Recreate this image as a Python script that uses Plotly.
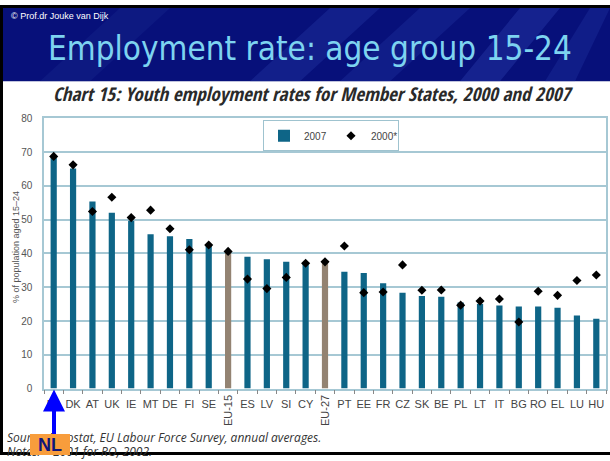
import plotly.graph_objects as go

categories = ["NL", "DK", "AT", "UK", "IE", "MT", "DE", "FI", "SE", "EU-15",
              "ES", "LV", "SI", "CY", "EU-27", "PT", "EE", "FR", "CZ", "SK",
              "BE", "PL", "LT", "IT", "BG", "RO", "EL", "LU", "HU"]
rate_2007 = [68.4, 65.1, 55.4, 52.0, 49.7, 45.7, 45.1, 44.3, 42.4, 40.8,
             39.0, 38.3, 37.5, 37.3, 38.0, 34.6, 34.2, 31.2, 28.4, 27.4,
             27.2, 25.5, 25.0, 24.6, 24.3, 24.3, 23.9, 21.6, 20.7]
rate_2000 = [68.7, 66.2, 52.4, 56.6, 50.6, 52.8, 47.3, 41.1, 42.5, 40.6,
             32.4, 29.6, 32.9, 37.1, 37.5, 42.2, 28.4, 28.6, 36.6, 29.1,
             29.2, 24.7, 25.9, 26.5, 19.7, 28.8, 27.6, 32.0, 33.6]
y_ticks = [0, 10, 20, 30, 40, 50, 60, 70, 80]
aggregates = ["EU-15", "EU-27"]

W, H = 610, 461
def px(x):
    return x / W
def py(y):
    return 1 - y / H

TEAL = "#0e6587"
BROWN = "#938372"
GRID = "#a6c8d4"
NARROW = "Liberation Sans Narrow, Liberation Sans"

bar_colors = [BROWN if c in aggregates else TEAL for c in categories]
tick_text = ["" if c in aggregates else c for c in categories]

fig = go.Figure()
fig.add_trace(go.Bar(x=categories, y=rate_2007, name="2007",
                     marker=dict(color=bar_colors, line=dict(width=0)),
                     width=0.32))
fig.add_trace(go.Scatter(x=categories, y=rate_2000, name="2000*", mode="markers",
                         marker=dict(symbol="diamond", size=7, color="black")))

shapes = []
shapes.append(dict(type="rect", xref="paper", yref="paper", x0=0, x1=1,
                   y0=py(78), y1=1, fillcolor="#07107a", line=dict(width=0), layer="below"))
for (a, b, c, d, col) in [(330, 380, 300, 250, "rgba(40,60,170,0.35)"),
                          (420, 470, 390, 340, "rgba(40,60,170,0.30)"),
                          (520, 560, 500, 460, "rgba(50,70,180,0.35)"),
                          (590, 610, 575, 545, "rgba(40,60,170,0.30)"),
                          (120, 170, 90, 40, "rgba(30,50,150,0.25)")]:
    shapes.append(dict(type="path", xref="paper", yref="paper",
                       path=f"M {px(a)},{py(3)} L {px(b)},{py(3)} L {px(c)},{py(78)} L {px(d)},{py(78)} Z",
                       fillcolor=col, line=dict(width=0), layer="below"))
shapes.append(dict(type="rect", xref="paper", yref="paper", x0=0, x1=1, y0=py(3), y1=1,
                   fillcolor="black", line=dict(width=0)))
shapes.append(dict(type="rect", xref="paper", yref="paper", x0=0, x1=px(3), y0=0, y1=1,
                   fillcolor="black", line=dict(width=0)))
shapes.append(dict(type="rect", xref="paper", yref="paper", x0=0, x1=1, y0=0, y1=py(458),
                   fillcolor="black", line=dict(width=0)))

annotations = []
annotations.append(dict(text="© Prof.dr Jouke van Dijk", xref="paper", yref="paper",
                        x=px(9), y=py(11), xanchor="left", yanchor="middle", showarrow=False,
                        font=dict(family="Liberation Sans, Arial", size=9, color="white")))
annotations.append(dict(text="Employment rate: age group 15-24", xref="paper", yref="paper",
                        x=px(310), y=py(45), xanchor="center", yanchor="middle", showarrow=False,
                        font=dict(family="DejaVu Sans Condensed, DejaVu Sans", size=33, color="#7dd3f0")))
annotations.append(dict(text="<b><i>Chart 15: Youth employment rates for Member States, 2000 and 2007</i></b>",
                        xref="paper", yref="paper", x=px(313), y=py(91), xanchor="center",
                        yanchor="middle", showarrow=False,
                        font=dict(family="Open Sans Condensed, Liberation Sans Narrow, Open Sans", size=19, color="#2a2a2a")))
annotations.append(dict(text="% of population aged 15–24", xref="paper", yref="paper",
                        x=px(16), y=py(248), xanchor="center", yanchor="middle", showarrow=False,
                        textangle=-90, font=dict(family=NARROW, size=9, color="#555555")))
for c in aggregates:
    annotations.append(dict(text=c, xref="x", yref="paper", x=c, y=py(398),
                            xanchor="center", yanchor="top", showarrow=False, textangle=-90,
                            font=dict(family=NARROW, size=11, color="#444444")))
annotations.append(dict(text="<i>Source: Eurostat, EU Labour Force Survey, annual averages.</i>",
                        xref="paper", yref="paper", x=px(5), y=py(443), xanchor="left",
                        yanchor="middle", showarrow=False,
                        font=dict(family="Open Sans, Liberation Sans", size=12, color="#333333")))
annotations.append(dict(text="<i>Notes: * 2001 for RO, 2002.</i>",
                        xref="paper", yref="paper", x=px(5), y=py(457), xanchor="left",
                        yanchor="middle", showarrow=False,
                        font=dict(family="Open Sans, Liberation Sans", size=12, color="#333333")))
# blue arrow pointing at NL
annotations.append(dict(text="", xref="paper", yref="paper", x=px(54), y=py(394),
                        ax=0, ay=48, showarrow=True, arrowhead=2, arrowsize=1.1,
                        arrowwidth=4, arrowcolor="#0000ff"))
# orange NL label box (drawn above the source text)
annotations.append(dict(text="<b>NL</b>", xref="paper", yref="paper", x=px(30), y=py(461),
                        xanchor="left", yanchor="bottom", showarrow=False,
                        width=40, height=21, bgcolor="#f89d3c", borderpad=0, borderwidth=0,
                        font=dict(family="Liberation Sans, Arial", size=18, color="#10157a")))

fig.update_layout(
    width=W, height=H,
    margin=dict(l=0, r=0, t=0, b=0),
    paper_bgcolor="white", plot_bgcolor="white",
    showlegend=True,
    legend=dict(orientation="h", x=px(263), y=py(118), xanchor="left", yanchor="top",
                bordercolor="#9fc3cf", borderwidth=1, bgcolor="white",
                font=dict(family=NARROW, size=10, color="#444444"),
                itemwidth=30, entrywidth=22),
    xaxis=dict(domain=[px(44), px(606)], type="category", categoryorder="array",
               categoryarray=categories, tickmode="array", tickvals=categories,
               ticktext=tick_text, range=[-0.5, len(categories) - 0.5], tickangle=0,
               ticks="outside", tickson="boundaries", ticklen=4, tickcolor="#888888",
               ticklabelstandoff=4,
               showline=True, linecolor=GRID, linewidth=1.5, mirror=True,
               showgrid=False,
               tickfont=dict(family=NARROW, size=11, color="#444444")),
    yaxis=dict(domain=[py(393), py(116)], range=[0, 80], tickvals=y_ticks,
               showgrid=True, gridcolor=GRID, gridwidth=1.5,
               showline=True, linecolor=GRID, linewidth=1.5, mirror=True,
               zeroline=False, ticks="", ticklabelstandoff=8,
               tickfont=dict(family=NARROW, size=10, color="#555555")),
    shapes=shapes, annotations=annotations,
)

fig.write_html("out.html", config={"displayModeBar": False},
               post_script="document.body.style.margin='0';")
